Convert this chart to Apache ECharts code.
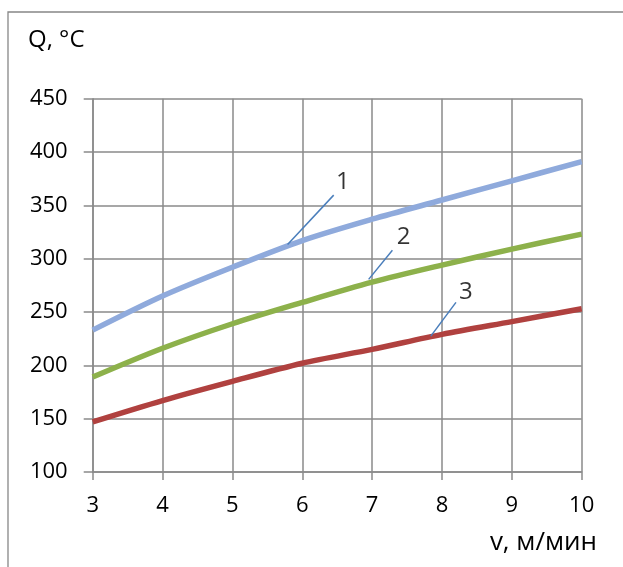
<!DOCTYPE html>
<html>
<head>
<meta charset="utf-8">
<script src="https://cdn.jsdelivr.net/npm/echarts@6/dist/echarts.min.js"></script>
<style>
html,body{margin:0;padding:0;background:#fff;}
#c{width:623px;height:567px;}
</style>
</head>
<body>
<div id="c"></div>
<script>
// Data
var speedV = [3, 4, 5, 6, 7, 8, 9, 10];
var curve1 = [233, 265, 292, 317, 337, 355, 373, 391];
var curve2 = [189, 216, 239, 259, 278, 294, 309, 323];
var curve3 = [147, 167, 185, 202, 215, 229, 241, 253];
var curveNames = ['1', '2', '3'];
// callout leader lines (data coords): [start on curve, end near label]
var leader1 = [[5.79, 313.4], [6.45, 359.6]];
var leader2 = [[6.95, 280.6], [7.29, 308]];
var leader3 = [[7.84, 227.4], [8.20, 259]];
// callout label anchors (data coords)
var labelPos = [[6.58, 372], [7.45, 320.5], [8.34, 269]];

var FONT = '"Open Sans", "Noto Sans", sans-serif';
var GRID = '#8a8a8a';

function pts(arr){ return speedV.map(function(x,i){ return [x, arr[i]]; }); }

var chart = echarts.init(document.getElementById('c'), null, {renderer:'canvas'});
var lineCommon = { type:'line', smooth:0.3, showSymbol:false, symbol:'none', silent:true, z:3 };

var series = [
  Object.assign({}, lineCommon, {name:'1', data:pts(curve1), lineStyle:{color:'#8faadc', width:5.5}}),
  Object.assign({}, lineCommon, {name:'2', data:pts(curve2), lineStyle:{color:'#8db14b', width:5.5}}),
  Object.assign({}, lineCommon, {name:'3', data:pts(curve3), lineStyle:{color:'#b0413f', width:5.5}})
];
[leader1, leader2, leader3].forEach(function(l){
  series.push({type:'line', data:l, symbol:'none', silent:true, z:4,
    lineStyle:{color:'#4a7ebb', width:1.5}});
});
series.push({
  type:'scatter', symbolSize:0, silent:true, z:5,
  data: labelPos.map(function(p,i){ return {value:p, name:curveNames[i]}; }),
  label:{show:true, position:'inside', formatter:'{b}', color:'#000', fontSize:24, fontFamily:FONT}
});

chart.setOption({
  animation:false,
  backgroundColor:'#fff',
  grid:{left:92.7, right:41.3, top:98.7, bottom:95, containLabel:false, outerBoundsMode:'none'},
  xAxis:{
    type:'value', min:3, max:10, interval:1,
    axisLine:{show:true, lineStyle:{color:GRID, width:1.5}},
    axisTick:{show:true, inside:false, length:8, lineStyle:{color:GRID, width:1.5}},
    axisLabel:{color:'#000', fontSize:22, fontFamily:FONT, margin:23},
    splitLine:{show:true, lineStyle:{color:GRID, width:1.5}}
  },
  yAxis:{
    type:'value', min:100, max:450, interval:50,
    axisLine:{show:true, lineStyle:{color:GRID, width:1.5}},
    axisTick:{show:true, inside:false, length:9, lineStyle:{color:GRID, width:1.5}},
    axisLabel:{color:'#000', fontSize:22, fontFamily:FONT, margin:25},
    splitLine:{show:true, lineStyle:{color:GRID, width:1.5}}
  },
  graphic:[
    {type:'rect', shape:{x:8, y:12, width:700, height:700}, silent:true,
      style:{fill:'none', stroke:'#878787', lineWidth:1.3}},
    {type:'text', x:28, y:40, silent:true,
      style:{text:'Q, °C', font:'24px ' + FONT, fill:'#000', textAlign:'left', textVerticalAlign:'middle'}},
    {type:'text', x:597, y:543, silent:true,
      style:{text:'v, м/мин', font:'26px ' + FONT, fill:'#000', textAlign:'right', textVerticalAlign:'middle'}}
  ],
  series:series
});
</script>
</body>
</html>
